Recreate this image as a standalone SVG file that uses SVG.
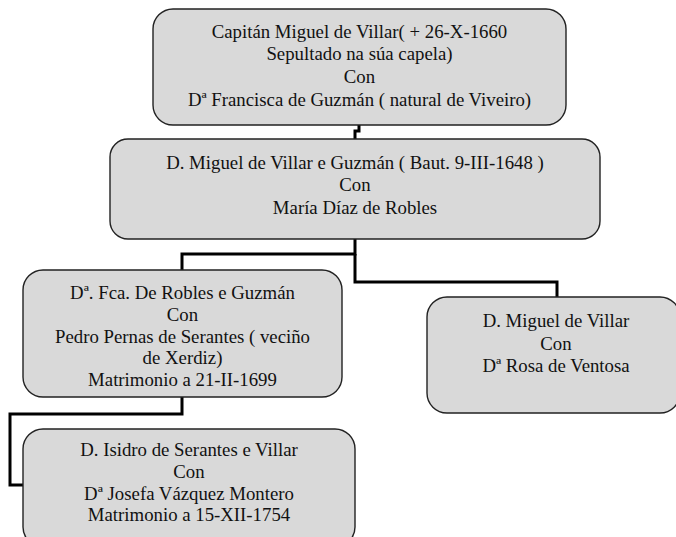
<svg xmlns="http://www.w3.org/2000/svg" width="676" height="537" viewBox="0 0 676 537">
<style>
.box{fill:#d9d9d9;stroke:#222;stroke-width:1.4}
.t{font-family:"Liberation Serif","Times New Roman",serif;font-size:18.8px;fill:#111;text-anchor:middle}
.c{fill:none;stroke:#000;stroke-width:3;stroke-linejoin:miter}
</style>
<rect width="676" height="537" fill="#fff"/>
<g id="connectors">
<path class="c" d="M359,125 V131 H355 V139"/>
<path class="c" d="M355,239 V254 H182 V270"/>
<path class="c" d="M355,254 V282 H557 V297"/>
<path class="c" d="M182,397 V414 H10 V485 H23"/>
</g>
<g id="n1">
<rect class="box" x="153" y="9" width="413" height="116" rx="20"/>
<text class="t" x="359.5" y="37.5">Capitán Miguel de Villar( + 26-X-1660</text>
<text class="t" x="359.5" y="60.3">Sepultado na súa capela)</text>
<text class="t" x="359.5" y="83">Con</text>
<text class="t" x="359.5" y="105.8">Dª Francisca de Guzmán ( natural de Viveiro)</text>
</g>
<g id="n2">
<rect class="box" x="110" y="139" width="490" height="100" rx="18"/>
<text class="t" x="355" y="168.5">D. Miguel de Villar e Guzmán ( Baut. 9-III-1648 )</text>
<text class="t" x="355" y="191">Con</text>
<text class="t" x="355" y="213.5">María Díaz de Robles</text>
</g>
<g id="n3">
<rect class="box" x="23" y="270" width="319" height="127" rx="20"/>
<text class="t" x="182.5" y="299">Dª. Fca. De Robles e Guzmán</text>
<text class="t" x="182.5" y="321">Con</text>
<text class="t" x="182.5" y="342.5">Pedro Pernas de Serantes ( veciño</text>
<text class="t" x="182.5" y="364">de Xerdiz)</text>
<text class="t" x="182.5" y="386">Matrimonio a 21-II-1699</text>
</g>
<g id="n4">
<rect class="box" x="23" y="429" width="332" height="118" rx="20"/>
<text class="t" x="189" y="456">D. Isidro de Serantes e Villar</text>
<text class="t" x="189" y="477.5">Con</text>
<text class="t" x="189" y="499.5">Dª Josefa Vázquez Montero</text>
<text class="t" x="189" y="521">Matrimonio a 15-XII-1754</text>
</g>
<g id="n5">
<rect class="box" x="427" y="297" width="253" height="116" rx="20"/>
<text class="t" x="556" y="327">D. Miguel de Villar</text>
<text class="t" x="556" y="349.5">Con</text>
<text class="t" x="556" y="372">Dª Rosa de Ventosa</text>
</g>
</svg>
